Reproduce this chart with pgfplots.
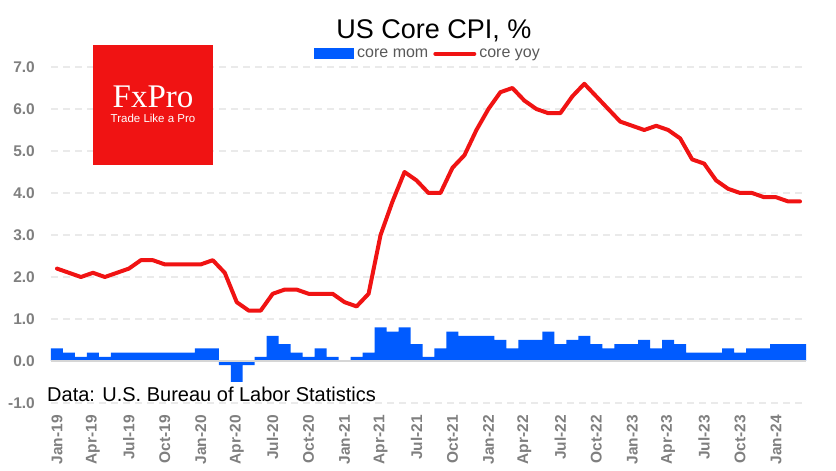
\documentclass[border=0pt]{standalone}
\usepackage{pgfplots}
\pgfplotsset{compat=1.18}
\usepackage{pgfplotstable}
\usepackage{fontspec}
\setmainfont{Liberation Sans}
\newfontfamily\seriffont{Liberation Serif}
\definecolor{barblue}{RGB}{0,91,255}
\definecolor{linered}{RGB}{240,19,19}
\definecolor{ticktext}{RGB}{127,127,127}
\definecolor{legtext}{RGB}{89,89,89}
\definecolor{gridgray}{RGB}{234,234,234}
\definecolor{zerogray}{RGB}{214,214,214}

\pgfplotstableread{
x mom yoy
0 0.3 2.2
1 0.2 2.1
2 0.1 2.0
3 0.2 2.1
4 0.1 2.0
5 0.2 2.1
6 0.2 2.2
7 0.2 2.4
8 0.2 2.4
9 0.2 2.3
10 0.2 2.3
11 0.2 2.3
12 0.3 2.3
13 0.3 2.4
14 -0.1 2.1
15 -0.5 1.4
16 -0.1 1.2
17 0.1 1.2
18 0.6 1.6
19 0.4 1.7
20 0.2 1.7
21 0.1 1.6
22 0.3 1.6
23 0.1 1.6
24 0.0 1.4
25 0.1 1.3
26 0.2 1.6
27 0.8 3.0
28 0.7 3.8
29 0.8 4.5
30 0.4 4.3
31 0.1 4.0
32 0.3 4.0
33 0.7 4.6
34 0.6 4.9
35 0.6 5.5
36 0.6 6.0
37 0.5 6.4
38 0.3 6.5
39 0.5 6.2
40 0.5 6.0
41 0.7 5.9
42 0.4 5.9
43 0.5 6.3
44 0.6 6.6
45 0.4 6.3
46 0.3 6.0
47 0.4 5.7
48 0.4 5.6
49 0.5 5.5
50 0.3 5.6
51 0.5 5.5
52 0.4 5.3
53 0.2 4.8
54 0.2 4.7
55 0.2 4.3
56 0.3 4.1
57 0.2 4.0
58 0.3 4.0
59 0.3 3.9
60 0.4 3.9
61 0.4 3.8
62 0.4 3.8
}\cpidata

\begin{document}
\begin{tikzpicture}
\useasboundingbox (0,0) rectangle (836pt,471pt);
\begin{axis}[
  at={(51pt,68pt)}, anchor=south west,
  scale only axis, width=755pt, height=336pt,
  xmin=-0.5, xmax=62.5, ymin=-1, ymax=7,
  ytick={-1,0,...,7},
  xtick={0,3,...,60},
  xticklabels={Jan-19,Apr-19,Jul-19,Oct-19,Jan-20,Apr-20,Jul-20,Oct-20,Jan-21,Apr-21,Jul-21,Oct-21,Jan-22,Apr-22,Jul-22,Oct-22,Jan-23,Apr-23,Jul-23,Oct-23,Jan-24},
  axis line style={draw=none},
  major tick length=0pt,
  ymajorgrids,
  major grid style={gridgray, line width=1.8pt, dash pattern=on 7pt off 5pt},
  /pgf/number format/assume math mode=true,
  yticklabel style={/pgf/number format/fixed, /pgf/number format/fixed zerofill, /pgf/number format/precision=1, anchor=east},
  tick label style={font=\bfseries\fontsize{15.5}{18}\selectfont, text=ticktext, inner sep=0pt},
  xticklabel style={rotate=90, anchor=east},
  yticklabel shift=16pt,
  xticklabel shift=12pt,
  legend style={at={(0.5,1.039)}, anchor=center, draw=none, fill=none,
    font=\fontsize{16}{18}\selectfont, text=legtext,
    nodes={inner xsep=3pt, inner ysep=0pt},
    /tikz/every even column/.append style={column sep=2pt}},
  legend columns=2,
  legend cell align=left,
]
\addplot[ybar, bar width=1, fill=barblue, draw=none,
  legend image code/.code={\fill[barblue] (0pt,-5.5pt) rectangle (40pt,5.5pt);}]
  table[x=x,y=mom]{\cpidata};
\addlegendentry{core mom}
\draw[zerogray, line width=2pt] (axis cs:-0.5,0) -- (axis cs:62.5,0);
\addplot[linered, line width=4pt, line join=round, line cap=round, no marks,
  legend image code/.code={\draw[linered, line width=4pt, line cap=round] (2pt,0pt) -- (41pt,0pt);}]
  table[x=x,y=yoy]{\cpidata};
\addlegendentry{core yoy}
\end{axis}
\fill[linered] (93pt,306pt) rectangle (213pt,426pt);
\node[text=white, font=\seriffont\fontsize{33}{33}\selectfont, anchor=base, inner sep=0pt] at (153pt,363pt) {FxPro};
\node[text=white, font=\fontsize{11.5}{11.5}\selectfont, anchor=base, inner sep=0pt] at (153pt,348pt) {Trade Like a Pro};
\node[font=\fontsize{27}{27}\selectfont, anchor=base, inner sep=0pt] at (434pt,432pt) {US Core CPI, \%};
\node[font=\fontsize{20}{20}\selectfont, anchor=base west, inner sep=0pt] at (47pt,69pt) {Data: U.S. Bureau of Labor Statistics};
\end{tikzpicture}
\end{document}
